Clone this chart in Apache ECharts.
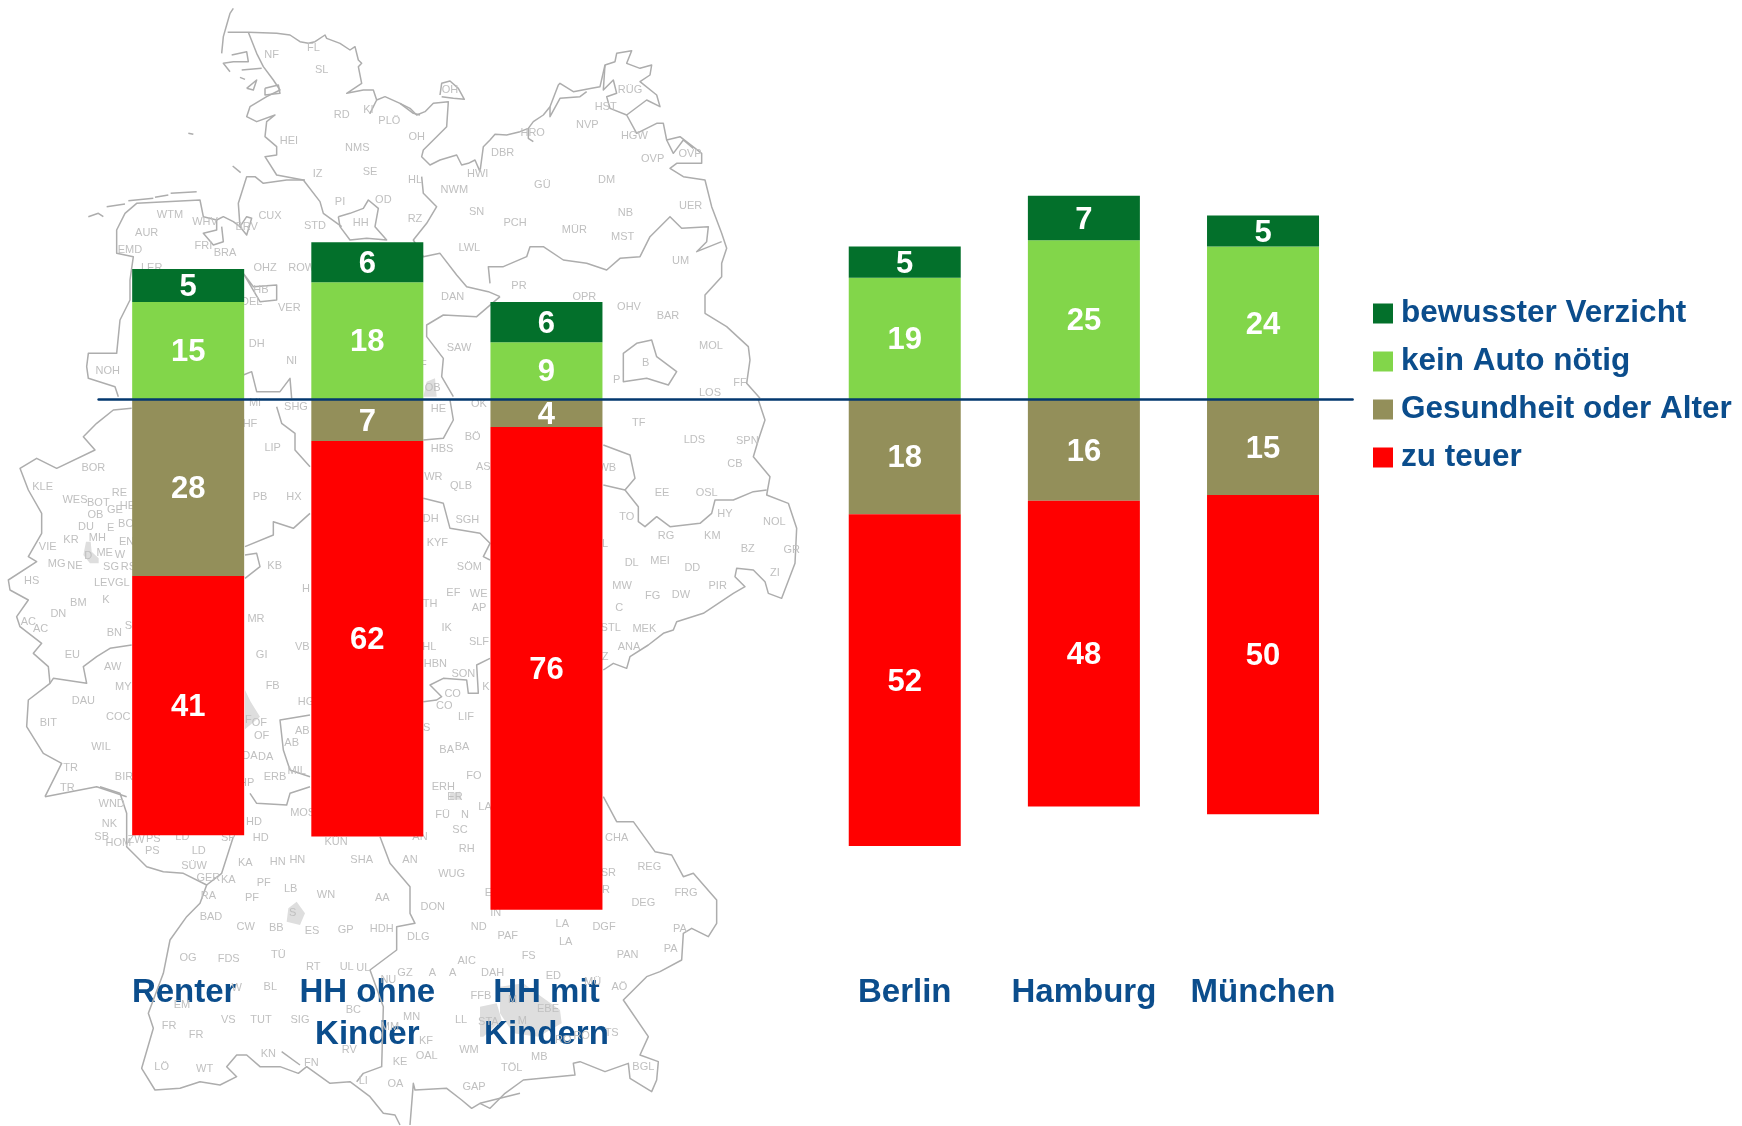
<!DOCTYPE html>
<html><head><meta charset="utf-8">
<style>html,body{margin:0;padding:0;background:#fff}#c{width:1742px;height:1126px}</style>
<script src="https://cdn.jsdelivr.net/npm/echarts@6/dist/echarts.min.js"></script>
</head><body><div id="c"></div>
<script>
// Chart data (percent; labels show rounded values, sign = side of the baseline)
const categories = ['Renter', 'HH ohne\nKinder', 'HH mit\nKindern', '', 'Berlin', 'Hamburg', 'München'];
const bewussterVerzicht = [5.2, 6.3, 6.3, null, 4.9, 7.0, 4.9];
const keinAutoNoetig    = [15.3, 18.4, 9.0, null, 19.1, 25.0, 24.0];
const gesundheitAlter   = [-27.7, -6.5, -4.3, null, -18.0, -15.9, -15.0];
const zuTeuer           = [-40.7, -62.1, -75.8, null, -52.1, -48.0, -50.1];

// Background map decoration, traced per crop: [originX, originY, [points at 3x]]
const mapLines = [
 [0,0,[[700,25],[690,40],[680,75],[670,110],[665,160]]],
 [0,0,[[683,97],[745,97],[830,100],[870,105],[900,125],[925,130],[945,125],[975,105],[980,115],[1020,130],[1050,150],[1065,140],[1075,180],[1085,190],[1075,200],[1085,250],[1040,280],[1090,270],[1120,270],[1130,300],[1110,340],[1130,300],[1155,290],[1200,310],[1240,340],[1260,345]]],
 [0,0,[[745,97],[770,160],[790,200],[820,240],[840,270],[800,290],[750,320],[740,350],[770,365],[825,345],[800,365],[795,410],[830,440],[830,465],[795,470],[830,525],[910,540],[960,605],[970,640],[1025,680]]],
 [0,0,[[695,165],[740,155],[745,185],[700,185],[670,190],[690,215]]],
 [0,0,[[725,210],[785,205]]],[0,0,[[740,265],[770,240],[760,270],[740,265]]],[0,0,[[795,265],[835,255],[840,280],[795,285],[795,265]]],[0,0,[[720,232],[735,238]]],
 [0,0,[[565,400],[580,403]]],[0,0,[[698,498],[722,518]]],
 [0,0,[[265,650],[295,640],[310,650]]],[0,0,[[320,620],[375,612]]],[0,0,[[385,602],[460,595]]],[0,0,[[465,592],[505,585]]],[0,0,[[512,580],[590,575]]],
 [0,0,[[355,1190],[345,1160],[265,1135],[260,1100],[265,1060],[350,1060],[360,960],[390,900],[390,840],[400,770],[350,760],[350,690],[375,640],[410,610],[600,600],[610,650],[650,660],[670,650],[700,665],[720,680],[715,610],[740,530],[765,530],[790,550],[860,540],[915,540]]],
 [0,0,[[650,660],[650,690],[610,700],[640,735],[670,725],[665,680]]],
 [0,0,[[720,680],[740,650],[755,655],[740,705],[720,680]]],
 [0,0,[[1015,650],[1020,680],[1050,720],[1100,715],[1160,720],[1125,680],[1135,625],[1105,600],[1090,625],[1050,640],[1015,650]]],
 [0,0,[[730,820],[760,860],[830,855],[830,900],[780,905],[730,820]]],
 [0,0,[[730,1125],[755,1115],[770,1175],[840,1175],[870,1135],[875,1195]]],
 [400,0,[[0,310],[30,325],[50,345],[75,335],[100,310],[145,305],[140,380],[110,410],[70,450],[65,470],[90,495],[120,480],[170,465],[185,495],[205,490],[225,480],[240,515],[250,440],[270,420],[285,403],[320,405],[360,395],[385,385],[400,365],[430,345],[450,320],[475,255],[480,250],[520,275],[575,265],[600,260],[615,195],[645,185],[650,160],[695,152],[680,190],[720,205],[755,195],[750,225],[720,245],[770,285],[780,320],[740,300],[700,330],[680,345],[710,400],[770,370],[790,370],[800,420],[840,410],[905,460],[905,490],[830,490],[810,505],[850,530],[915,540],[935,620],[965,700],[980,745],[965,790],[965,830],[915,885],[915,940],[980,980],[1045,1040],[1050,1080],[1040,1150],[1080,1195]]],
 [400,0,[[120,285],[125,250],[150,243],[175,265],[193,298],[160,295],[125,290]]],
 [400,0,[[450,320],[450,350],[480,295],[540,290],[560,275]]],
 [400,0,[[385,385],[385,415],[400,425]]],
 [400,0,[[615,195],[610,270],[640,240],[650,280],[620,290],[630,325],[680,345]]],
 [400,0,[[800,420],[820,460],[850,420],[880,445]]],
 [400,0,[[65,530],[70,580],[110,620],[80,670],[40,720],[70,770],[120,760],[170,825],[200,860],[265,875],[300,890]]],
 [400,0,[[270,850],[265,800],[310,800],[380,770],[390,740],[430,740],[490,780],[560,790],[620,810],[660,775],[720,770],[750,710],[810,650],[845,685],[925,680],[920,725],[890,755],[965,725]]],
 [400,0,[[670,1080],[670,1145],[740,1135],[805,1155],[830,1115],[770,1070],[755,1020],[710,1030],[670,1060],[670,1080]]],
 [400,0,[[300,890],[230,950],[130,945],[80,975],[80,1010],[130,1075],[125,1130],[160,1190]]],
 [400,400,[[1075,0],[1095,60],[1075,120],[1060,170],[1110,230],[1100,285],[1165,310],[1190,385],[1185,490],[1145,595],[1105,580],[1095,545],[1060,510],[1010,505],[1005,530],[1035,560],[1000,580],[910,640],[830,665],[820,690],[790,700],[745,735],[690,770],[680,805],[640,790],[610,810]]],
 [400,400,[[150,0],[160,60],[130,115],[70,120]]],
 [400,400,[[70,295],[130,310],[150,385],[240,400],[270,430],[250,470],[270,480]]],
 [400,400,[[610,135],[690,165],[705,235],[675,270],[610,255]]],
 [400,400,[[675,270],[715,320],[715,365],[735,380],[770,350],[810,380],[900,370],[935,340],[945,300],[1000,300],[1060,275],[1100,270]]],
 [400,400,[[70,905],[110,900],[125,890],[90,855],[130,835],[200,840],[205,880],[235,880],[230,795],[270,775]]],
 [0,400,[[395,25],[340,30],[290,70],[250,110],[285,150],[170,205],[110,175],[60,205],[85,270],[125,340],[125,400],[85,470],[110,485],[25,540],[30,570],[85,600],[50,650],[60,680],[125,730],[100,760],[145,800],[150,850],[85,900],[80,980],[130,1060],[185,1090],[135,1190]]],
 [0,400,[[830,20],[845,70],[885,100],[885,150],[930,200]]],
 [0,400,[[930,340],[880,385],[820,365],[820,405],[735,440]]],
 [0,400,[[735,465],[770,460],[780,500],[735,535]]],
 [0,400,[[395,735],[330,745],[290,770],[250,800],[260,850],[160,835],[150,850]]],
 [0,400,[[930,945],[840,960],[850,1050],[870,1110],[930,1130]]],
 [0,400,[[135,1190],[290,1160],[380,1190]]],
 [100,780,[[0,20],[60,40],[80,100],[80,200],[140,260],[190,275],[250,280],[320,315],[300,370],[260,410],[210,480],[190,580],[145,700],[160,745],[125,865],[165,930],[240,925],[300,905],[360,915],[410,890],[380,860],[410,825],[440,825],[480,860],[540,860],[595,880],[620,860],[690,910],[750,905],[810,950],[850,1000],[885,1005],[900,1035]]],
 [100,780,[[930,1035],[940,910],[945,930],[1040,925],[1085,960],[1115,985],[1140,970],[1260,940]]],
 [100,780,[[400,170],[365,280],[320,315]]],
 [100,780,[[450,40],[470,70],[560,75],[570,40],[630,20]]],
 [100,780,[[840,170],[870,250],[930,320],[930,400],[945,430],[890,440],[890,510],[810,570],[850,680],[845,860],[790,880],[770,905]]],
 [100,780,[[545,815],[600,855]]],
 [480,780,[[370,50],[410,125],[460,125],[525,215],[575,225],[610,290],[640,280],[710,360],[710,430],[685,470],[635,445],[610,460],[605,540],[540,575],[500,590],[430,660],[505,770],[480,825],[535,845],[530,900],[515,935],[450,895],[445,850],[375,875],[300,845],[280,850],[285,885],[130,900],[75,940],[30,985],[0,970]]]
];
const mapAreas = [
 [0,400,[[258,425],[272,425],[275,455],[296,475],[296,490],[270,490],[250,465]]],
 [0,400,[[735,870],[752,905],[780,950],[735,988]]],
 [100,780,[[590,365],[615,400],[600,435],[560,425],[565,385]]],
 [400,0,[[80,1145],[105,1135],[110,1190],[70,1190]]],
 [480,780,[[60,620],[130,610],[170,640],[240,690],[245,730],[175,770],[100,760],[60,700]]],
 [480,780,[[0,680],[50,670],[65,720],[10,770],[0,770]]],
 [400,400,[[150,1180],[180,1175],[185,1199],[150,1199]]]
];
const mapLabels = [
 [0,0,[['NF',815,165],['FL',940,145],['SL',965,210],['RD',1025,345],['KI',1105,330],['PLÖ',1168,363],['HEI',867,423],['NMS',1072,445],['IZ',953,522],['SE',1110,517],['PI',1020,606],['OD',1150,600],['WTM',510,645],['WHV',615,665],['CUX',810,648],['BRV',740,682],['HH',1082,670],['STD',945,678],['AUR',440,700],['FRI',610,738],['BRA',675,760],['EMD',390,750],['LER',455,805],['OHZ',795,805],['ROW',905,805],['HB',783,870],['DEL',755,907],['VER',868,925],['DH',770,1032],['NI',875,1083],['NOH',323,1113]]],
 [400,0,[['OH',150,270],['RÜG',690,270],['HST',617,322],['NVP',562,375],['HRO',398,400],['HGW',703,408],['OH',50,410],['DBR',308,460],['OVP',870,462],['OVP',758,478],['HWI',233,522],['HL',45,540],['DM',620,540],['GÜ',427,555],['NWM',163,570],['UER',872,618],['SN',230,636],['NB',676,640],['RZ',45,657],['PCH',345,670],['MÜR',523,690],['MST',668,712],['LWL',208,745],['UM',842,783],['PR',357,858],['DAN',158,892],['OPR',553,892],['OHV',687,922],['BAR',804,948],['MOL',933,1038],['SAW',177,1045],['B',737,1090],['P',650,1140],['FF',1020,1150],['OB',98,1163],['LOS',930,1180],['F',70,1095]]],
 [0,400,[['MI',765,10],['SHG',888,20],['HF',750,72],['BOR',280,205],['LIP',818,145],['KLE',128,262],['RE',358,280],['WES',225,300],['BOT',295,310],['PB',780,292],['HX',882,292],['GE',345,330],['HE',382,318],['OB',286,345],['DU',258,382],['E',332,385],['BO',378,372],['MH',292,415],['KR',213,420],['EN',380,425],['VIE',143,441],['ME',314,460],['D',265,468],['W',360,465],['KB',824,498],['MG',170,493],['NE',225,498],['SG',333,502],['RS',385,502],['HS',95,544],['LEV',313,550],['GL',367,550],['H',918,568],['K',318,600],['BM',235,610],['DN',175,643],['AC',85,667],['AC',122,688],['MR',768,658],['BN',343,700],['SI',390,678],['VB',907,742],['EU',217,766],['GI',785,766],['AW',338,802],['FB',818,858],['MY',370,862],['DAU',250,902],['HG',918,905],['F',745,960],['COC',355,950],['BIT',145,970],['OF',778,968],['AB',907,993],['OF',785,1008],['AB',875,1030],['WIL',303,1040],['DA',750,1067],['DA',797,1072],['TR',212,1105],['MIL',890,1113],['ERB',825,1132],['BIR',372,1132],['HP',740,1150],['TR',202,1165]]],
 [400,400,[['HE',115,28],['OK',237,12],['BÖ',218,112],['TF',716,70],['LDS',883,120],['SPN',1042,123],['HBS',126,148],['CB',1005,192],['AS',250,202],['WB',622,205],['WR',100,232],['QLB',183,258],['EE',786,280],['OSL',920,280],['HY',975,343],['TO',680,352],['DH',92,358],['SGH',202,360],['NOL',1123,367],['RG',798,408],['KM',937,408],['KYF',112,430],['L',615,432],['BZ',1043,448],['GR',1175,450],['DL',695,490],['MEI',780,484],['SÖM',208,502],['DD',877,505],['ZI',1125,520],['MW',666,558],['PIR',953,558],['EF',160,580],['WE',236,582],['FG',758,588],['DW',843,585],['TH',90,612],['AP',237,625],['C',658,625],['IK',140,685],['STL',632,685],['MEK',733,688],['SLF',237,727],['HL',88,742],['ANA',687,742],['Z',615,770],['HBN',106,792],['SON',190,822],['K',258,860],['CO',158,882],['CO',133,918],['LIF',198,952],['S',80,985],['BA',140,1050],['BA',186,1042],['FO',222,1128],['ERH',130,1162],['ER',165,1190]]],
 [100,780,[['LA',1155,82],['FÜ',1028,105],['N',1095,105],['SC',1080,150],['MOS',608,100],['HD',462,127],['AN',960,172],['RH',1100,208],['WND',35,72],['NK',28,132],['SB',5,170],['LD',247,172],['HOM',55,190],['ZW',108,180],['PS',160,178],['SP',385,175],['HD',482,175],['KÜN',708,187],['PS',157,213],['LD',296,213],['HN',533,247],['HN',592,241],['KA',436,250],['SHA',785,241],['AN',930,241],['SÜW',282,258],['WUG',1055,283],['GER',325,295],['KA',385,300],['PF',491,310],['LB',572,327],['WN',678,346],['RA',325,348],['PF',456,354],['AA',847,355],['DON',998,382],['E',1165,340],['S',578,400],['BAD',333,411],['IN',1187,400],['CW',437,442],['BB',529,445],['ES',636,453],['GP',737,450],['HDH',845,448],['ND',1136,442],['DLG',955,471],['PAF',1223,468],['TÜ',535,525],['OG',264,535],['FDS',386,538],['RT',640,562],['UL',740,562],['UL',790,565],['GZ',915,580],['A',997,580],['A',1058,580],['AIC',1100,543],['DAH',1178,580],['BL',511,622],['NU',865,600],['W',410,625],['FFB',1143,647],['EM',246,675],['BC',760,690],['MN',935,712],['VS',385,720],['TUT',483,720],['SIG',600,720],['LL',1083,720],['STA',1165,725],['FR',207,738],['FR',288,765],['MM',870,740],['KF',978,783],['RV',748,810],['WM',1107,810],['KN',505,822],['FN',634,850],['OAL',980,828],['KE',900,847],['LÖ',185,862],['WT',314,868],['LI',790,903],['OA',886,913],['GAP',1122,921]]],
 [480,780,[['CHA',410,175],['REG',508,262],['SR',385,280],['R',378,330],['FRG',618,340],['DEG',490,370],['LA',247,433],['DGF',372,441],['PA',600,447],['LA',257,487],['PA',572,508],['PAN',443,526],['FS',146,528],['ED',220,588],['MÜ',338,605],['AÖ',418,622],['M',98,660],['EBE',204,687],['M',127,722],['TS',395,760],['RO',250,780],['RO',305,768],['MB',178,832],['TÖL',95,865],['BGL',490,862]]]
];

const blue = '#0b4d8c';
const font = '"Liberation Sans", Arial, sans-serif';
const conv = (ox, oy, p) => [ox + p[0] / 3, oy + p[1] / 3];
const gfx = [];
mapAreas.forEach(([ox, oy, pts]) => gfx.push({type:'polygon', silent:true, z:0,
  shape:{points:pts.map(p => conv(ox, oy, p))}, style:{fill:'#dedede', stroke:null}}));
mapLines.forEach(([ox, oy, pts]) => gfx.push({type:'polyline', silent:true, z:1,
  shape:{points:pts.map(p => conv(ox, oy, p))}, style:{fill:null, stroke:'#adadad', lineWidth:1.5, lineJoin:'round'}}));
mapLabels.forEach(([ox, oy, items]) => items.forEach(([t, x, y]) => gfx.push({type:'text', silent:true, z:1,
  x:ox + x / 3, y:oy + y / 3, style:{text:t, fill:'#c0c0c0', font:'11px ' + font, align:'center', verticalAlign:'middle'}})));

const valueLabel = {show:true, position:'inside', offset:[0,2], color:'#fff', fontFamily:font, fontWeight:'bold', fontSize:31,
  formatter: p => Math.round(Math.abs(p.value))};
const mk = (name, data, color) => ({name, type:'bar', stack:'a', data, barWidth:112, itemStyle:{color},
  label:valueLabel, z:3, silent:true, animation:false});
const axisCategories = categories.map((c, i) => i === 0 ? {value:c, textStyle:{padding:[0,8,0,0]}} : c);

const chart = echarts.init(document.getElementById('c'), null, {renderer:'canvas'});
chart.setOption({
  animation:false, backgroundColor:'#fff', graphic:{elements:gfx},
  grid:{left:98.6, width:1254, top:17.3, height:955.5},
  legend:{show:true, orient:'vertical', left:1368, top:292.5, itemWidth:20, itemHeight:20, itemGap:16, icon:'rect',
    selectedMode:false, data:['bewusster Verzicht','kein Auto nötig','Gesundheit oder Alter','zu teuer'],
    textStyle:{color:blue, fontFamily:font, fontWeight:'bold', fontSize:31.5, lineHeight:28, padding:[0,0,0,3]}},
  xAxis:[
   {type:'category', data:axisCategories, position:'bottom', axisLine:{show:false, onZero:false}, axisTick:{show:false},
    axisLabel:{interval:0, margin:-1, color:blue, fontFamily:font, fontWeight:'bold', fontSize:33, lineHeight:42}},
   {type:'category', data:categories, position:'bottom', z:10, axisTick:{show:false}, axisLabel:{show:false},
    axisLine:{show:true, onZero:true, onZeroAxisIndex:0, lineStyle:{color:'#03386f', width:2.5}}}
  ],
  yAxis:{type:'value', min:-90, max:60, show:false},
  series:[mk('Gesundheit oder Alter', gesundheitAlter, '#938f5a'), mk('zu teuer', zuTeuer, '#ff0000'),
          mk('kein Auto nötig', keinAutoNoetig, '#82d64a'), mk('bewusster Verzicht', bewussterVerzicht, '#03702b')]
});
</script></body></html>
